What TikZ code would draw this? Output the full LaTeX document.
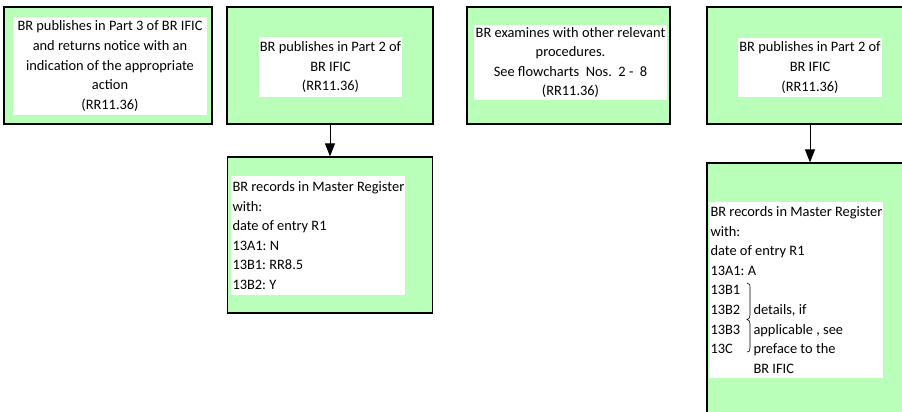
\documentclass[tikz,border=0pt]{standalone}
\usepackage{fontspec}
\setmainfont{Carlito}
\usetikzlibrary{arrows.meta}
\definecolor{boxgreen}{RGB}{185,255,185}
\tikzset{
  outerbox/.style={draw=black, fill=boxgreen, line width=1.2pt, inner sep=0pt},
  whitebox/.style={fill=white, inner sep=0pt},
  txt/.style={inner sep=0pt, font=\fontsize{14.4}{19.6}\selectfont\frenchspacing},
  ctext/.style={txt, align=center},
  ltext/.style={txt, align=left, anchor=west},
  arr/.style={line width=1pt, -{Triangle[length=13pt,width=10pt]}}
}
\begin{document}
\begin{tikzpicture}[x=1pt,y=-1pt]
\useasboundingbox (0,0) rectangle (902,412);
\clip (0,0) rectangle (902,412);
% outer boxes
\node[outerbox, minimum width=208pt, minimum height=117pt] (b1) at (108,65.5) {};
\node[outerbox, minimum width=206pt, minimum height=117pt] (b2) at (330,65.5) {};
\node[outerbox, minimum width=203pt, minimum height=117pt] (b3) at (568.5,65.5) {};
\node[outerbox, minimum width=206pt, minimum height=117pt] (b4) at (810,65.5) {};
\node[outerbox, minimum width=205pt, minimum height=156pt] (b5) at (330,235) {};
\node[outerbox, minimum width=206pt, minimum height=257pt] (b6) at (810,291.5) {};
% white text areas
\node[whitebox, minimum width=194pt, minimum height=98pt] (w1) at (110,66) {};
\node[whitebox, minimum width=143pt, minimum height=60pt] (w2) at (330.5,67) {};
\node[whitebox, minimum width=193pt, minimum height=75pt] (w3) at (570.5,62.5) {};
\node[whitebox, minimum width=144pt, minimum height=59pt] (w4) at (810,67.5) {};
\node[whitebox, minimum width=174pt, minimum height=119pt] (w5) at (318,235.5) {};
\node[whitebox, minimum width=174pt, minimum height=176pt] (w6) at (796,290) {};
% texts
\node[ctext] (t1) at (w1.center)
  {BR publishes in Part 3 of BR IFIC\\and returns notice with an\\indication of the appropriate\\action\\(RR11.36)};
\node[ctext] (t2) at (w2.center)
  {BR publishes in Part 2 of\\BR IFIC\\(RR11.36)};
\node[ctext] (t3) at (w3.center)
  {BR examines with other relevant\\procedures.\\See flowcharts\ \ Nos.\ \ 2 -\ \ 8\\(RR11.36)};
\node[ctext] (t4) at (w4.center)
  {BR publishes in Part 2 of\\BR IFIC\\(RR11.36)};
\node[ltext] (t5) at ([xshift=1.5pt]w5.west)
  {BR records in Master Register\\with:\\date of entry R1\\13A1: N\\13B1: RR8.5\\13B2: Y};
\node[ltext] (t6) at ([xshift=1.5pt]w6.west)
  {BR records in Master Register\\with:\\date of entry R1\\13A1: A\\13B1\\\makebox[43pt][l]{13B2}details, if\\\makebox[43pt][l]{13B3}applicable , see\\\makebox[43pt][l]{13C}preface to the\\\hspace*{43pt}BR IFIC};
% brace in box 6
\draw[line width=0.6pt] (747,283) .. controls (750,283) and (750,285) .. (750,289)
  -- (750,315) .. controls (750,318) and (749,319) .. (747,319.5)
  .. controls (749,320) and (750,321) .. (750,324)
  -- (750,348) .. controls (750,351) and (749,352) .. (747,352);
% arrows
\draw[arr] (b2.south) -- (b5.north);
\draw[arr] (b4.south) -- (b6.north);
\end{tikzpicture}
\end{document}
